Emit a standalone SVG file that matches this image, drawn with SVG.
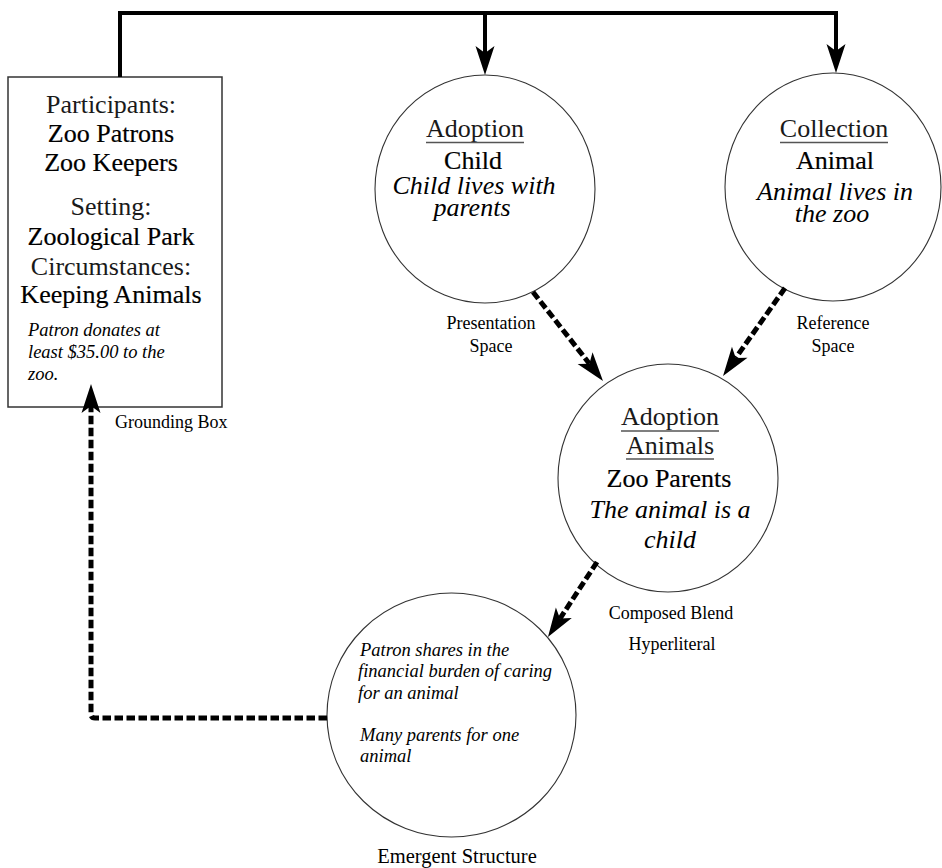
<svg xmlns="http://www.w3.org/2000/svg" width="942" height="868" viewBox="0 0 942 868">
  <style>
    text { font-family: "Liberation Serif", "Times New Roman", "DejaVu Serif", serif; fill: #000; }
    .big { font-size: 26px; }
    .head { fill: #1a1a1a; }
    .val { stroke: #000; stroke-width: 0.2; }
    .it { font-style: italic; }
    .note { font-size: 18.5px; font-style: italic; }
    .lbl { font-size: 18px; }
    .mid { text-anchor: middle; }
    .space { fill: #fff; stroke: #333; stroke-width: 1.1; }
    .uline { stroke: #555; stroke-width: 1.5; }
    .solid { fill: none; stroke: #000; stroke-width: 4; stroke-linejoin: miter; }
    .dash { fill: none; stroke: #000; stroke-width: 5; stroke-dasharray: 8.5 3.5; }
  </style>
  <defs>
    <marker id="head" markerUnits="userSpaceOnUse" markerWidth="40" markerHeight="40" refX="0" refY="0" orient="auto" overflow="visible">
      <path d="M22,0 L-7,-9.5 L0,0 L-7,9.5 Z" fill="#000"/>
    </marker>
  </defs>

  <!-- grounding box -->
  <g id="grounding-box">
    <rect x="8" y="77" width="214" height="330" fill="#fff" stroke="#333" stroke-width="1.5"/>
    <text class="big head mid" x="111" y="113">Participants:</text>
    <text class="big val mid" x="111" y="142">Zoo Patrons</text>
    <text class="big val mid" x="111" y="171">Zoo Keepers</text>
    <text class="big head mid" x="111" y="215">Setting:</text>
    <text class="big val mid" x="111" y="245">Zoological Park</text>
    <text class="big head mid" x="111" y="275">Circumstances:</text>
    <text class="big val mid" x="111" y="303">Keeping Animals</text>
    <text class="note" x="28" y="336">Patron donates at</text>
    <text class="note" x="28" y="358">least $35.00 to the</text>
    <text class="note" x="28" y="380">zoo.</text>
    <text class="lbl" x="115" y="428">Grounding Box</text>
  </g>

  <!-- presentation space -->
  <g id="presentation-space">
    <ellipse class="space" cx="485" cy="189" rx="110" ry="114"/>
    <text class="big head mid" x="475" y="137">Adoption</text>
    <line class="uline" x1="426" y1="142.5" x2="524" y2="142.5"/>
    <text class="big val mid" x="473" y="169">Child</text>
    <text class="big it mid" x="474" y="194">Child lives with</text>
    <text class="big it mid" x="472" y="216">parents</text>
    <text class="lbl mid" x="491" y="329">Presentation</text>
    <text class="lbl mid" x="491" y="352">Space</text>
  </g>

  <!-- reference space -->
  <g id="reference-space">
    <ellipse class="space" cx="833" cy="187" rx="108" ry="114"/>
    <text class="big head mid" x="834" y="137">Collection</text>
    <line class="uline" x1="780" y1="142.5" x2="888" y2="142.5"/>
    <text class="big val mid" x="835" y="169">Animal</text>
    <text class="big it mid" x="835" y="200">Animal lives in</text>
    <text class="big it mid" x="832" y="222">the zoo</text>
    <text class="lbl mid" x="833" y="329">Reference</text>
    <text class="lbl mid" x="833" y="352">Space</text>
  </g>

  <!-- composed blend -->
  <g id="composed-blend">
    <ellipse class="space" cx="668" cy="478" rx="110" ry="114"/>
    <text class="big head mid" x="670" y="425">Adoption</text>
    <line class="uline" x1="621" y1="431" x2="719" y2="431"/>
    <text class="big head mid" x="670" y="454">Animals</text>
    <line class="uline" x1="626" y1="459" x2="714" y2="459"/>
    <text class="big val mid" x="669" y="487">Zoo Parents</text>
    <text class="big it mid" x="670" y="518">The animal is a</text>
    <text class="big it mid" x="670" y="548">child</text>
    <text class="lbl mid" x="671" y="619">Composed Blend</text>
    <text class="lbl mid" x="672" y="650">Hyperliteral</text>
  </g>

  <!-- emergent structure -->
  <g id="emergent-structure">
    <ellipse class="space" cx="451.5" cy="715" rx="124.5" ry="122"/>
    <text class="note" x="360" y="656">Patron shares in the</text>
    <text class="note" x="358" y="677">financial burden of caring</text>
    <text class="note" x="358" y="699">for an animal</text>
    <text class="note" x="360" y="741">Many parents for one</text>
    <text class="note" x="360" y="762">animal</text>
    <text class="mid" style="font-size:20.5px" x="457" y="863">Emergent Structure</text>
  </g>

  <!-- connectors -->
  <g id="connectors">
    <path class="solid" d="M120,77 V13 H836 V51" marker-end="url(#head)"/>
    <path class="solid" d="M485,13 V53" marker-end="url(#head)"/>
    <path class="dash" d="M533,292 L589.4,363.7" marker-end="url(#head)"/>
    <path class="dash" d="M785,288 L735.7,358" marker-end="url(#head)"/>
    <path class="dash" d="M597,562 L560,618.6" marker-end="url(#head)"/>
    <path class="dash" d="M327,718 H95 Q91,718 91,714 V406" marker-end="url(#head)"/>
  </g>
</svg>
